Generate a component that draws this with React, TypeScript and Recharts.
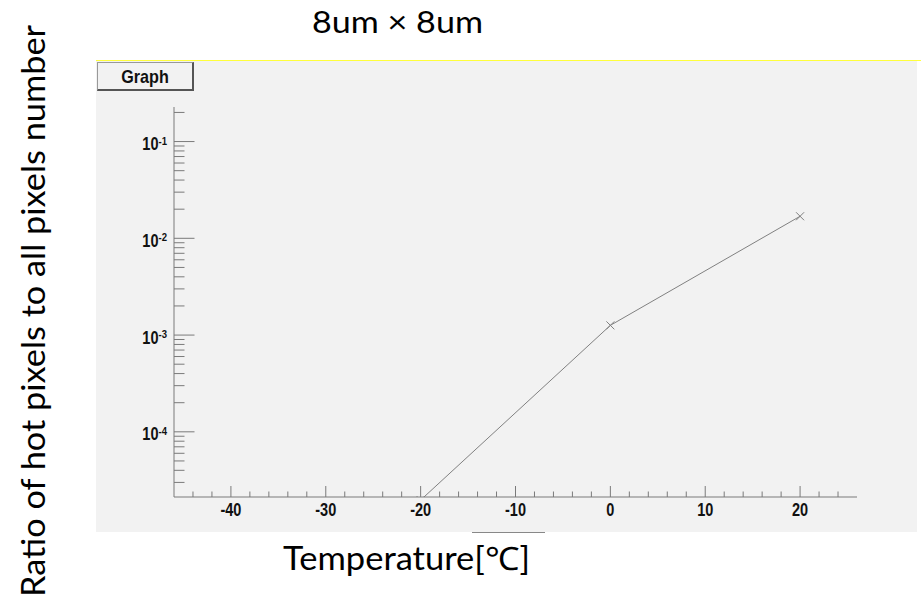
import { LineChart, Line, XAxis, YAxis } from 'recharts';

// temperature [°C] and fraction of hot pixels (8um x 8um pixels)
const temperatures = [-20, 0, 20];
const hotPixelRatio = [1.97e-5, 1.26e-3, 1.69e-2];

const xDomain = [-46, 26];
const yDomain = [2.12e-5, 0.2276];

const xMajorTicks = [-40, -30, -20, -10, 0, 10, 20];
const xMinorTicks = [
  -44, -42, -38, -36, -34, -32, -28, -26, -24, -22, -18, -16, -14, -12,
  -8, -6, -4, -2, 2, 4, 6, 8, 12, 14, 16, 18, 22, 24,
];
const yMajorTicks = [1e-4, 1e-3, 1e-2, 1e-1];
const yMinorTicks = [
  3e-5, 4e-5, 5e-5, 6e-5, 7e-5, 8e-5, 9e-5,
  2e-4, 3e-4, 4e-4, 5e-4, 6e-4, 7e-4, 8e-4, 9e-4,
  2e-3, 3e-3, 4e-3, 5e-3, 6e-3, 7e-3, 8e-3, 9e-3,
  2e-2, 3e-2, 4e-2, 5e-2, 6e-2, 7e-2, 8e-2, 9e-2,
  2e-1,
];

const data = temperatures.map((t, i) => ({ t, ratio: hotPixelRatio[i] }));

const TICK_FONT = '"Liberation Sans", Arial, sans-serif';
const LABEL_FONT = "Lato, 'Open Sans', sans-serif";
const AXIS_COLOR = '#7a7a7a';

function XTick(props: any) {
  const { x, y, payload } = props;
  const v = payload.value as number;
  const major = xMajorTicks.includes(v);
  return (
    <g>
      <line x1={x} y1={y} x2={x} y2={y - (major ? 11 : 5.5)} stroke={AXIS_COLOR} strokeWidth={1} />
      {major && (
        <text
          transform={`translate(${x},${y + 18.7}) scale(0.83,1)`}
          textAnchor="middle"
          fontFamily={TICK_FONT}
          fontWeight="bold"
          fontSize={17.5}
          fill="#111"
        >
          {v}
        </text>
      )}
    </g>
  );
}

function YTick(props: any) {
  const { x, y, payload } = props;
  const v = payload.value as number;
  const exp = Math.round(Math.log10(v));
  const major = Math.abs(Math.log10(v) - exp) < 1e-6;
  return (
    <g>
      <line x1={x} y1={y} x2={x + (major ? 20.5 : 10.5)} y2={y} stroke={AXIS_COLOR} strokeWidth={1} />
      {major && (
        <text
          transform={`translate(${x - 7},${y + 8.5}) scale(0.83,1)`}
          textAnchor="end"
          fontFamily={TICK_FONT}
          fontWeight="bold"
          fontSize={17.5}
          fill="#111"
        >
          10
          <tspan fontSize={11.5} dy={-5.5}>{exp}</tspan>
        </text>
      )}
    </g>
  );
}

function Cross(props: any) {
  const { cx, cy } = props;
  if (cx == null || cy == null) return <g />;
  const s = 4;
  return (
    <path
      d={`M${cx - s},${cy - s}L${cx + s},${cy + s}M${cx - s},${cy + s}L${cx + s},${cy - s}`}
      stroke="#808080"
      strokeWidth={1}
      fill="none"
    />
  );
}

export default function App() {
  return (
    <div style={{ position: 'absolute', left: 0, top: 0, width: 921, height: 602, background: '#fff', overflow: 'hidden' }}>
      {/* canvas panel */}
      <div style={{ position: 'absolute', left: 96, top: 60, width: 821, height: 472, background: '#f2f2f2' }} />
      <div style={{ position: 'absolute', left: 96, top: 60, width: 825, height: 1, background: '#ffff3c' }} />
      <div style={{ position: 'absolute', left: 472, top: 532, width: 73, height: 1, background: '#888' }} />
      <div
        style={{
          position: 'absolute',
          left: 97,
          top: 62,
          width: 94,
          height: 26,
          background: '#f2f2f2',
          borderTop: '1px solid #999',
          borderLeft: '1px solid #999',
          borderRight: '2px solid #555',
          borderBottom: '2px solid #555',
          display: 'flex',
          alignItems: 'center',
          justifyContent: 'center',
        }}
      >
        <span
          style={{
            display: 'inline-block',
            transform: 'scale(0.85,1)',
            fontFamily: TICK_FONT,
            fontWeight: 'bold',
            fontSize: 19,
            color: '#111',
            lineHeight: 1,
          }}
        >
          Graph
        </span>
      </div>

      <div style={{ position: 'absolute', left: 0, top: 0 }}>
        <LineChart width={921} height={602} data={data} margin={{ top: 107, right: 64, bottom: 75, left: 114 }}>
          <XAxis
            dataKey="t"
            type="number"
            domain={xDomain}
            allowDataOverflow
            ticks={[...xMajorTicks, ...xMinorTicks].sort((a, b) => a - b)}
            interval={0}
            height={30}
            tickSize={0}
            tickMargin={0}
            tickLine={false}
            axisLine={{ stroke: AXIS_COLOR, strokeWidth: 1 }}
            tick={<XTick />}
          />
          <XAxis
            xAxisId="top"
            orientation="top"
            type="number"
            domain={xDomain}
            height={0}
            tick={false}
            tickLine={false}
            axisLine={{ stroke: '#9a9a9a', strokeWidth: 1.5 }}
          />
          <YAxis
            scale="log"
            type="number"
            domain={yDomain}
            allowDataOverflow
            ticks={[...yMajorTicks, ...yMinorTicks].sort((a, b) => a - b)}
            interval={0}
            width={60}
            tickSize={0}
            tickMargin={0}
            tickLine={false}
            axisLine={{ stroke: AXIS_COLOR, strokeWidth: 1 }}
            tick={<YTick />}
          />
          <YAxis
            yAxisId="right"
            orientation="right"
            type="number"
            width={0}
            tick={false}
            tickLine={false}
            axisLine={{ stroke: '#9a9a9a', strokeWidth: 1.5 }}
          />
          <Line
            dataKey="ratio"
            type="linear"
            stroke="#808080"
            strokeWidth={1}
            dot={(p: any) => <Cross key={`dot-${p.index}`} {...p} />}
            activeDot={false}
            isAnimationActive={false}
          />
        </LineChart>
      </div>

      <svg width={921} height={602} style={{ position: 'absolute', left: 0, top: 0, pointerEvents: 'none' }}>
        <text
          x={397.5}
          y={33.3}
          textAnchor="middle"
          fontFamily={LABEL_FONT}
          fontSize={30}
          textLength={171}
          lengthAdjust="spacingAndGlyphs"
          fill="#000"
        >
          8um × 8um
        </text>
        <text
          x={406.5}
          y={570}
          textAnchor="middle"
          fontFamily={LABEL_FONT}
          fontSize={32}
          textLength={247}
          lengthAdjust="spacingAndGlyphs"
          fill="#000"
        >
          Temperature[℃]
        </text>
        <text
          x={0}
          y={0}
          transform="translate(45,311) rotate(-90)"
          textAnchor="middle"
          fontFamily={LABEL_FONT}
          fontSize={32}
          textLength={572}
          lengthAdjust="spacingAndGlyphs"
          fill="#000"
        >
          Ratio of hot pixels to all pixels number
        </text>
      </svg>
    </div>
  );
}
